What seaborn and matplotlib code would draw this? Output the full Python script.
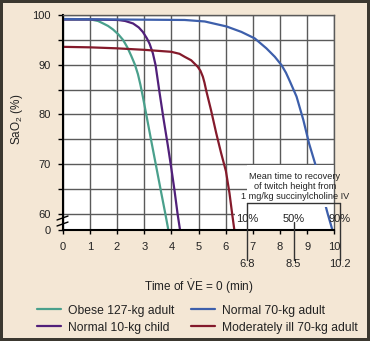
import numpy as np
import pandas as pd
import matplotlib
matplotlib.use("Agg")
import matplotlib.pyplot as plt
import seaborn as sns
from matplotlib.patches import Rectangle
from matplotlib.ticker import FixedLocator, FixedFormatter, NullFormatter

# ---------------- data ----------------
series_names = ["Obese 127-kg adult", "Normal 10-kg child",
                "Normal 70-kg adult", "Moderately ill 70-kg adult"]
series_colors = ["#4aa08c", "#51207a", "#3d5fab", "#841a2b"]

obese_t = [0, 0.5, 1.0, 1.12, 1.3, 1.49, 1.67, 1.85, 2.05, 2.22, 2.38, 2.53,
           2.66, 2.77, 2.86, 2.95, 3.08, 3.26, 3.44, 3.63, 3.78, 3.89]
obese_s = [99.1, 99.1, 99.1, 99.0, 98.8, 98.3, 97.8, 97.1, 96.1, 95.0, 93.5, 91.7,
           90.0, 88.1, 86.0, 83.6, 79.9, 74.7, 69.6, 64.2, 60.0, 0.0]

child_t = [0, 1.0, 2.04, 2.3, 2.59, 2.8, 2.95, 3.1, 3.2, 3.32, 3.42, 3.56,
           3.71, 3.87, 3.99, 4.11, 4.23, 4.32]
child_s = [99.1, 99.1, 99.0, 98.8, 98.3, 97.5, 96.6, 95.3, 94.2, 92.3, 89.9, 84.6,
           79.2, 73.8, 69.5, 65.0, 60.0, 0.0]

normal_t = [0, 2.0, 4.49, 5.23, 6.03, 6.58, 7.07, 7.5, 7.81, 8.06, 8.22, 8.37,
            8.61, 8.86, 9.07, 9.29, 9.5, 9.72, 9.76, 9.93]
normal_s = [99.2, 99.1, 99.0, 98.7, 97.7, 96.6, 95.3, 93.3, 91.6, 89.9, 88.4, 86.6,
            83.6, 78.9, 74.2, 70.2, 65.5, 60.8, 60.0, 0.0]

ill_t = [0, 1.0, 2.0, 3.0, 4.0, 4.3, 4.49, 4.73, 4.97, 5.07, 5.16, 5.22, 5.28,
         5.46, 5.65, 5.83, 6.01, 6.14, 6.24, 6.32]
ill_s = [93.6, 93.5, 93.3, 93.0, 92.6, 92.2, 91.6, 90.9, 89.6, 88.8, 87.6, 86.4,
         84.9, 80.9, 76.3, 72.3, 68.6, 64.2, 60.0, 0.0]

x_ticks = list(range(11))
y_major = [0, 60, 70, 80, 90, 100]
y_major_labels = ["0", "60", "70", "80", "90", "100"]
y_minor = [65, 75, 85, 95]

recovery_times = [6.8, 8.5, 10.2]
recovery_pcts = ["10%", "50%", "90%"]
recovery_labels = ["6.8", "8.5", "10.2"]
note_lines = ["Mean time to recovery", "of twitch height from",
              "1 mg/kg succinylcholine IV"]

# ---------------- frame ----------------
frames = []
for name, t, s in zip(series_names, [obese_t, child_t, normal_t, ill_t],
                      [obese_s, child_s, normal_s, ill_s]):
    frames.append(pd.DataFrame({"t": t, "sat": s, "series": name}))
df = pd.concat(frames, ignore_index=True)

BREAK = 60.0
K = 3.22 / 60.0


def fwd(y):
    y = np.asarray(y, dtype=float)
    return np.where(y >= BREAK, y, BREAK - (BREAK - y) * K)


def inv(f):
    f = np.asarray(f, dtype=float)
    return np.where(f >= BREAK, f, BREAK - (BREAK - f) / K)


BG = "#f4e7d5"
GRID = "#5a5a5a"
INK = "#222222"

sns.set_theme(style="ticks")
plt.rcParams["font.family"] = ["Liberation Sans", "DejaVu Sans"]
plt.rcParams["mathtext.fontset"] = "custom"
plt.rcParams["mathtext.rm"] = "Liberation Sans"
plt.rcParams["mathtext.it"] = "Liberation Sans:italic"
plt.rcParams["text.color"] = INK

fig = plt.figure(figsize=(3.7, 3.41), dpi=100)
fig.patch.set_facecolor(BG)
fig.patch.set_edgecolor("#3b3830")
fig.patch.set_linewidth(3)

ax = fig.add_axes([0.1695, 0.3255, 0.734, 0.6305])
ax.set_facecolor("white")
ax.set_yscale("function", functions=(fwd, inv))

sns.lineplot(data=df, x="t", y="sat", hue="series", hue_order=series_names,
             palette=dict(zip(series_names, series_colors)), estimator=None,
             sort=False, linewidth=1.6, ax=ax, legend=False, zorder=2)
handles = list(ax.lines[:4])
for ln in handles:
    ln.set_solid_joinstyle("round")

ax.set_xlim(0, 10)
ax.set_ylim(0, 100)
ax.set_xlabel("")
ax.set_ylabel("")

ax.xaxis.set_major_locator(FixedLocator(x_ticks))
ax.yaxis.set_major_locator(FixedLocator(y_major))
ax.yaxis.set_major_formatter(FixedFormatter(y_major_labels))
ax.yaxis.set_minor_locator(FixedLocator(y_minor))
ax.yaxis.set_minor_formatter(NullFormatter())

ax.set_axisbelow(True)
ax.grid(True, axis="x", which="major", color=GRID, lw=1.0)
ax.grid(True, axis="y", which="both", color=GRID, lw=1.0)

for side in ["left", "bottom"]:
    ax.spines[side].set_color("black")
    ax.spines[side].set_linewidth(1.5)
for side in ["top", "right"]:
    ax.spines[side].set_color(GRID)
    ax.spines[side].set_linewidth(1.0)

ax.tick_params(axis="y", which="both", direction="out", length=3.6, width=1,
               color="black", pad=5, labelsize=8, left=True, labelcolor=INK)
ax.tick_params(axis="x", which="major", direction="out", length=3, width=1,
               color="black", pad=5.5, labelsize=8, bottom=True, labelcolor=INK)

# white areas behind the annotation
ax.add_patch(Rectangle((6.34, 0), 10 - 6.34, 62, facecolor="white",
                       edgecolor="none", zorder=1))
ax.add_patch(Rectangle((6.77, 62), 10 - 6.77, 7.8, facecolor="white",
                       edgecolor="none", zorder=1))
ax.add_patch(Rectangle((6.77, 61.4), 10 - 6.77, 8.4, facecolor="white",
                       edgecolor="none", zorder=2.5))

ax.text(8.55, 65.6, "\n".join(note_lines), ha="center", va="center",
        fontsize=6.6, linespacing=1.15, zorder=4, color=INK)

tr = ax.get_xaxis_transform()
ANN = "#333333"
ax.plot([recovery_times[0], recovery_times[2]], [0.1256, 0.1256], transform=tr,
        color=ANN, lw=1, clip_on=False, zorder=4)
ax.plot([recovery_times[0]] * 2, [0.1256, -0.14], transform=tr, color=ANN,
        lw=1, clip_on=False, zorder=4)
ax.plot([recovery_times[1]] * 2, [0.035, -0.14], transform=tr, color=ANN,
        lw=1, clip_on=False, zorder=4)
ax.plot([recovery_times[2]] * 2, [0.1256, -0.14], transform=tr, color=ANN,
        lw=1, clip_on=False, zorder=4)
for t, p, lab in zip(recovery_times, recovery_pcts, recovery_labels):
    ax.text(t, 0.051, p, transform=tr, ha="center", va="center", fontsize=8,
            clip_on=False, zorder=5, color=INK)
    ax.text(t, -0.158, lab, transform=tr, ha="center", va="center", fontsize=8,
            clip_on=False, zorder=5, color=INK)

# axis break marks
ax.plot([-0.021, 0.0195], [0.0465, 0.065], transform=ax.transAxes,
        color="black", lw=1, clip_on=False, zorder=6)
ax.plot([-0.021, 0.0195], [0.0186, 0.037], transform=ax.transAxes,
        color="black", lw=1, clip_on=False, zorder=6)

ax.text(0.5, -0.284, r"Time of $\dot{\mathrm{V}}$E = 0 (min)",
        transform=ax.transAxes, ha="center", va="baseline", fontsize=8.5,
        color=INK)
ax.text(-0.169, 0.516, r"SaO$_\mathregular{2}$ (%)", transform=ax.transAxes,
        rotation=90, ha="center", va="center", fontsize=8.5, color=INK)

fig.legend(handles, series_names, ncol=2, loc="upper left",
           bbox_to_anchor=(0.101, 0.107), frameon=False, fontsize=8.7,
           handlelength=1.95, handletextpad=0.6, columnspacing=1.4,
           labelspacing=0.43, borderpad=0, borderaxespad=0)

fig.savefig("out.png", dpi=100, facecolor=fig.get_facecolor(),
            edgecolor=fig.get_edgecolor())
